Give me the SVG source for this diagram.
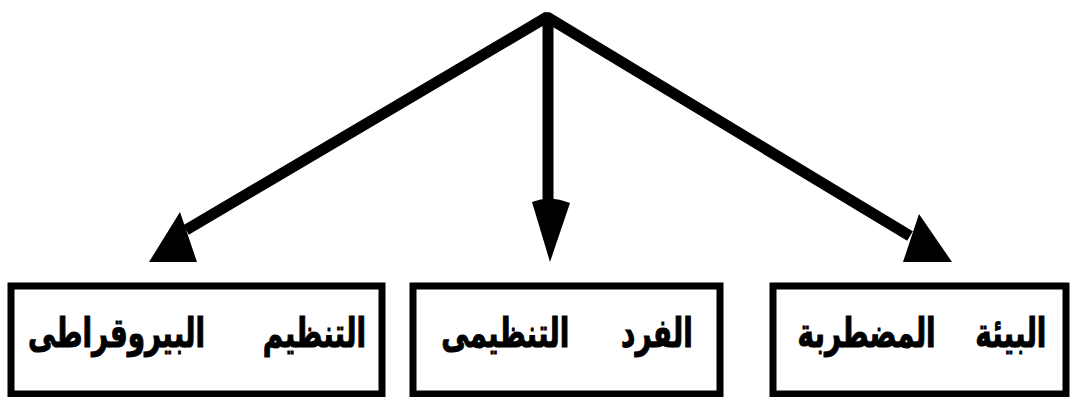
<svg xmlns="http://www.w3.org/2000/svg" width="1074" height="397" viewBox="0 0 1074 397">
<style>
.box{fill:#fff;stroke:#000;stroke-width:7}
.lbl{font-family:"DejaVu Sans Condensed","DejaVu Sans",sans-serif;font-stretch:condensed;font-weight:bold;font-size:31px;fill:#000;text-anchor:middle;stroke:#000;stroke-width:0.8}
.ln{fill:none;stroke:#000;stroke-width:11}
.hd{fill:#000;stroke:none}
</style>
<rect width="1074" height="397" fill="#fff"/>
<g id="connectors">
<polyline class="ln" points="186,230 547,17 910,236" stroke-linejoin="bevel"/>
<line class="ln" x1="548" y1="16" x2="548" y2="205" stroke-width="8"/>
<polygon class="hd" points="180,212 149,262 197,262"/>
<path class="hd" d="M532,202 Q550,195 570,203 L550,262 Z"/>
<polygon class="hd" points="919,214 903,262 952,262"/>
</g>
<g id="node-bureaucratic">
<rect class="box" x="11" y="286" width="371" height="108"/>
<text class="lbl" transform="translate(197,347) scale(1,1.3)" direction="rtl" word-spacing="48">التنظيم البيروقراطى</text>
</g>
<g id="node-individual">
<rect class="box" x="413" y="286" width="307" height="108"/>
<text class="lbl" transform="translate(567,347) scale(1,1.3)" direction="rtl" word-spacing="42">الفرد التنظيمى</text>
</g>
<g id="node-environment">
<rect class="box" x="773" y="286" width="293" height="108"/>
<text class="lbl" transform="translate(922,347) scale(1,1.3)" direction="rtl" word-spacing="30">البيئة المضطربة</text>
</g>
</svg>
